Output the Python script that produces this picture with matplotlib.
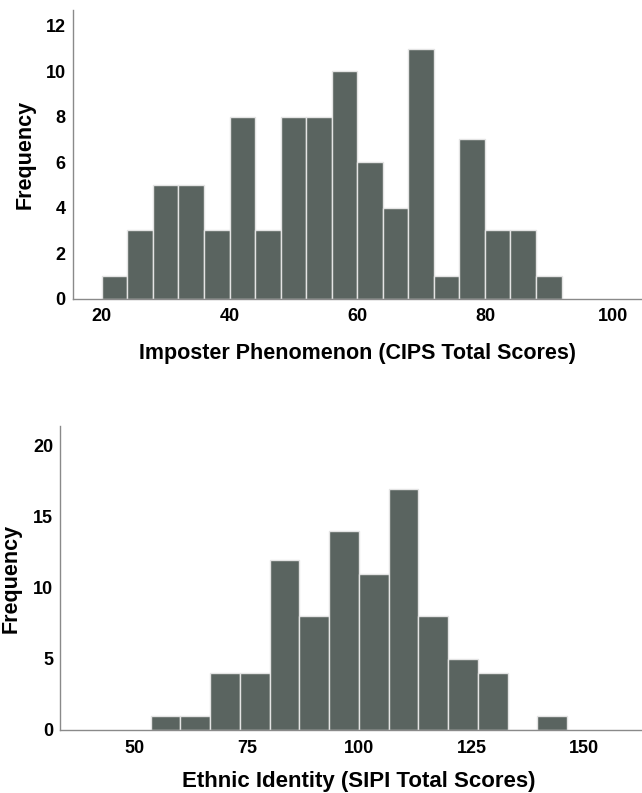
import numpy as np
import matplotlib
matplotlib.use("Agg")
import matplotlib.pyplot as plt

plt.rcParams['font.family'] = ['Liberation Sans', 'DejaVu Sans']

# Top histogram: Imposter Phenomenon (CIPS)
cips_edges = list(range(20, 93, 4))
cips_counts = [1, 3, 5, 5, 3, 8, 3, 8, 8, 10, 6, 4, 11, 1, 7, 3, 3, 1]
cips_xticks = [20, 40, 60, 80, 100]
cips_yticks = [0, 2, 4, 6, 8, 10, 12]

# Bottom histogram: Ethnic Identity (SIPI)
sipi_edges = list(np.linspace(53.5, 146.3, 15))
sipi_counts = [1, 1, 4, 4, 12, 8, 14, 11, 17, 8, 5, 4, 0, 1]
sipi_xticks = [50, 75, 100, 125, 150]
sipi_yticks = [0, 5, 10, 15, 20]

bar_color = '#5a6460'
edge_color = '#e4e4e4'
spine_color = '#8a8a8a'

fig = plt.figure(figsize=(6.42, 7.93), dpi=100)
W, H = 642, 793

def make_ax(left, top, right, bottom):
    return fig.add_axes([left / W, 1 - bottom / H, (right - left) / W, (bottom - top) / H])

ax1 = make_ax(72.5, 10, 642, 298.5)
ax2 = make_ax(60, 426, 642, 730)

def style(ax, edges, counts, xticks, yticks, xlim, ylim, xlabel, ylpad, xlsize, xlpad):
    edges = np.asarray(edges)
    ax.bar(edges[:-1], counts, width=np.diff(edges), align='edge',
           color=bar_color, edgecolor=edge_color, linewidth=1.0)
    ax.set_xlim(*xlim)
    ax.set_ylim(*ylim)
    ax.set_xticks(xticks)
    ax.set_yticks(yticks)
    ax.tick_params(length=0, labelsize=13)
    ax.tick_params(axis='x', pad=7)
    ax.tick_params(axis='y', pad=5)
    for lab in ax.get_xticklabels() + ax.get_yticklabels():
        lab.set_fontweight('bold')
    for s in ['top', 'right']:
        ax.spines[s].set_visible(False)
    for s in ['left', 'bottom']:
        ax.spines[s].set_color(spine_color)
        ax.spines[s].set_linewidth(1.0)
    ax.set_xlabel(xlabel, fontsize=xlsize, fontweight='bold', labelpad=xlpad)
    ax.set_ylabel('Frequency', fontsize=15.5, fontweight='bold', labelpad=ylpad)

style(ax1, cips_edges, cips_counts, cips_xticks, cips_yticks, (15.4, 104.6), (0, 12.7),
      'Imposter Phenomenon (CIPS Total Scores)', 7, 15.5, 13)
style(ax2, sipi_edges, sipi_counts, sipi_xticks, sipi_yticks, (33.3, 163.0), (0, 21.4),
      'Ethnic Identity (SIPI Total Scores)', 8, 16, 10)
ax2.xaxis.label.set_x(0.514)

fig.savefig('out.png', dpi=100)
